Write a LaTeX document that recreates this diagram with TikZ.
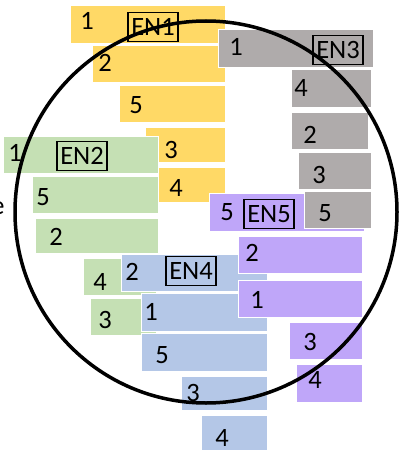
\documentclass[tikz,border=0pt]{standalone}
\usepackage{fontspec}
\setmainfont{Carlito}
\definecolor{cyel}{HTML}{FFD966}
\definecolor{cgrn}{HTML}{C5E0B4}
\definecolor{cblu}{HTML}{B4C7E7}
\definecolor{cgry}{HTML}{AFABAB}
\definecolor{cpur}{HTML}{BFA6F9}
\begin{document}
\begin{tikzpicture}[x=1pt,y=-1pt,
  bar/.style={draw=white,line width=0.6pt},
  num/.style={inner sep=0pt,text height=16.5pt,text depth=0pt,font=\fontsize{26.5}{30}\selectfont},
  enbox/.style={draw=black,line width=1.4pt,minimum width=50pt,minimum height=29pt,inner sep=0pt,text height=16.5pt,text depth=0pt,font=\fontsize{26.5}{30}\selectfont}]
\useasboundingbox (0,0) rectangle (400,460);
% yellow EN1
\fill[bar,fill=cyel] (70,5) rectangle (225,43);
\fill[bar,fill=cyel] (92,45) rectangle (225,82);
\fill[bar,fill=cyel] (119,85) rectangle (225,122);
\fill[bar,fill=cyel] (145,127) rectangle (225,162);
\fill[bar,fill=cyel] (158,167) rectangle (225,202);
% green EN2
\fill[bar,fill=cgrn] (3,136) rectangle (158,173);
\fill[bar,fill=cgrn] (32,176) rectangle (158,213);
\fill[bar,fill=cgrn] (35,218) rectangle (158,253);
\fill[bar,fill=cgrn] (83,258) rectangle (156,295);
\fill[bar,fill=cgrn] (90,298) rectangle (156,335);
% blue EN4
\fill[bar,fill=cblu] (121,254) rectangle (267,291);
\fill[bar,fill=cblu] (141,293) rectangle (267,331);
\fill[bar,fill=cblu] (141,333) rectangle (267,371);
\fill[bar,fill=cblu] (181,376) rectangle (267,410);
\fill[bar,fill=cblu] (201,415) rectangle (267,450);
% gray EN3
\fill[bar,fill=cgry] (218,29) rectangle (373,67);
\fill[bar,fill=cgry] (291,69) rectangle (371,107);
\fill[bar,fill=cgry] (291,112) rectangle (368,149);
\fill[bar,fill=cgry] (298,152) rectangle (371,189);
% purple EN5
\fill[bar,fill=cpur] (209,193) rectangle (364,231);
\fill[bar,fill=cpur] (238,236) rectangle (362,273);
\fill[bar,fill=cpur] (238,280) rectangle (362,317);
\fill[bar,fill=cpur] (289,322) rectangle (362,359);
\fill[bar,fill=cpur] (296,364) rectangle (362,402);
% gray on top
\fill[bar,fill=cgry] (304,191) rectangle (371,228);
% circle
\draw[line width=3.5pt] (206,212) circle[radius=191];
% labels EN1
\node[num] (y1) at (87,21) {1};
\node[enbox] (en1) at (153,27) {EN1};
\node[num] (y2) at (105,63) {2};
\node[num] (y5) at (136,105) {5};
\node[num] (y3) at (171,150) {3};
\node[num] (y4) at (176,188) {4};
% EN2
\node[num] (g1) at (15,153) {1};
\node[enbox] (en2) at (82,156) {EN2};
\node[num] (g5) at (43,197) {5};
\node[num] (g2) at (56,237) {2};
\node[num] (g4) at (100,282) {4};
\node[num] (g3) at (105,320) {3};
% EN4
\node[num] (b2) at (132,272) {2};
\node[enbox] (en4) at (191,271) {EN4};
\node[num] (b1) at (151,312) {1};
\node[num] (b5) at (162,355) {5};
\node[num] (b3) at (193,393) {3};
\node[num] (b4) at (222,438) {4};
% EN3
\node[num] (r1) at (236,47) {1};
\node[enbox] (en3) at (338,50) {EN3};
\node[num] (r4) at (301,88) {4};
\node[num] (r2) at (310,135) {2};
\node[num] (r3) at (319,175) {3};
\node[num] (r5) at (325,213) {5};
% EN5
\node[num] (p5) at (227,212) {5};
\node[enbox] (en5) at (269,214) {EN5};
\node[num] (p2) at (252,253) {2};
\node[num] (p1) at (257,300) {1};
\node[num] (p3) at (310,342) {3};
\node[num] (p4) at (315,380) {4};
% cut-off letter
\node[inner sep=0pt,text height=12pt,text depth=0pt,font=\fontsize{26.5}{30}\selectfont] (cut) at (-2,208) {e};
\end{tikzpicture}
\end{document}
